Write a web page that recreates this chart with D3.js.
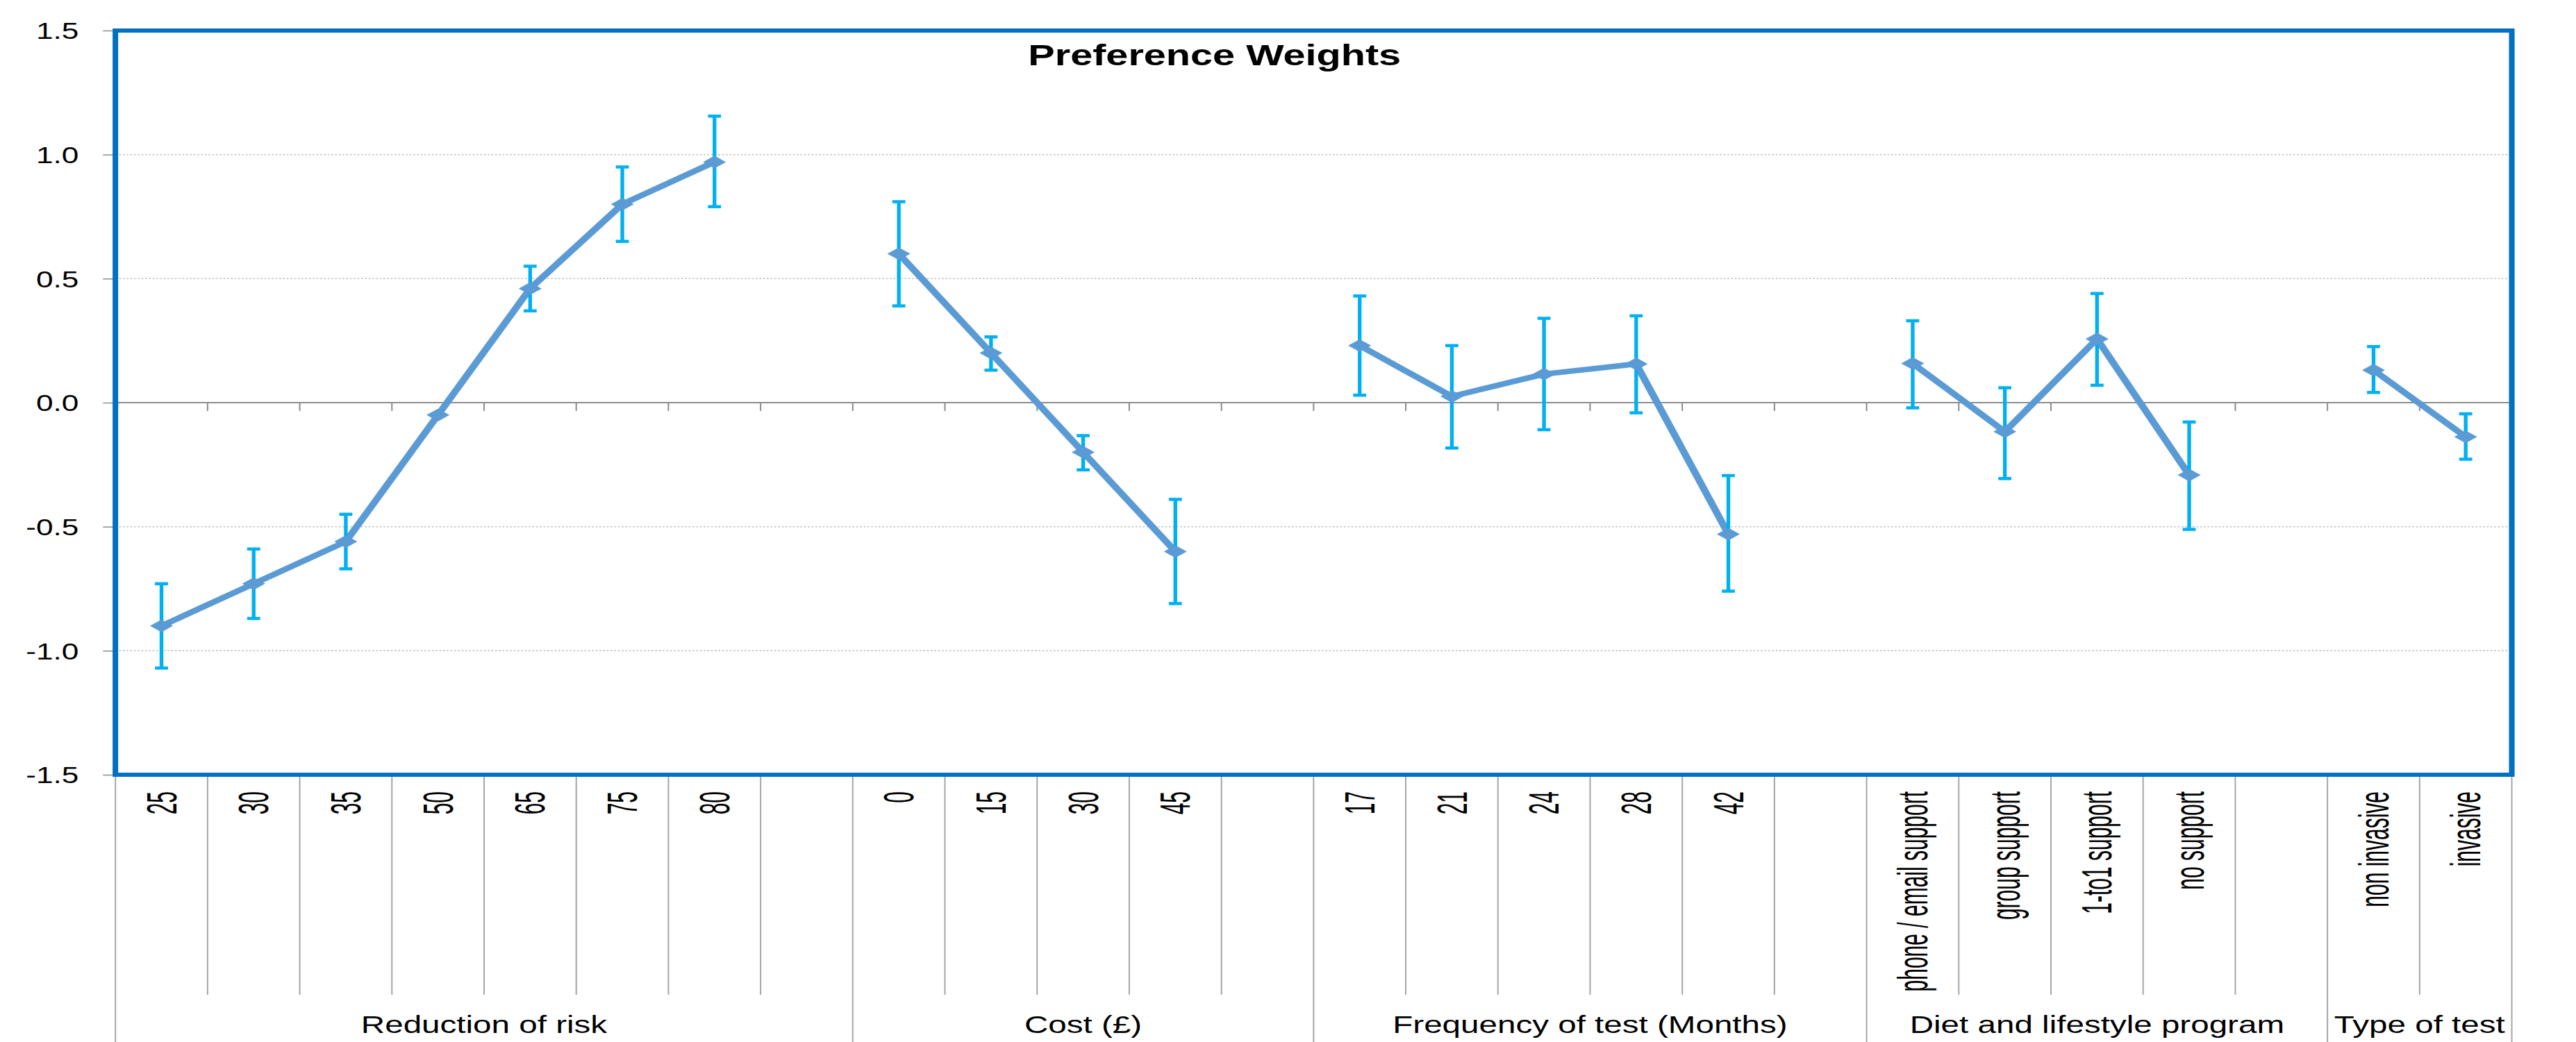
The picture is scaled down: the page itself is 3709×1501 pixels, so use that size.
<!DOCTYPE html>
<html>
<head>
<meta charset="utf-8">
<script src="https://cdn.jsdelivr.net/npm/d3@7"></script>
<style>
  html, body { margin: 0; padding: 0; background: #fff; }
  svg { display: block; }
  text { font-family: 'Liberation Sans', Arial, sans-serif; }
</style>
</head>
<body>
<div id="chart"></div>
<script>
const chartTitle = 'Preference Weights';
const groupNames = ['Reduction of risk', 'Cost (£)', 'Frequency of test (Months)', 'Diet and lifestyle program', 'Type of test'];
const levelLabels = [
    ['25', '30', '35', '50', '65', '75', '80', ''],
    ['0', '15', '30', '45', ''],
    ['17', '21', '24', '28', '42', ''],
    ['phone / email support', 'group support', '1-to1 support', 'no support', ''],
    ['non invasive', 'invasive']
];
const weights = [
    [-0.90, -0.73, -0.56, -0.05, 0.46, 0.80, 0.97, null],
    [0.60, 0.20, -0.20, -0.60, null],
    [0.23, 0.025, 0.115, 0.156, -0.53, null],
    [0.158, -0.117, 0.257, -0.292, null],
    [0.131, -0.138]
];
const ciUpper = [
    [-0.73, -0.59, -0.45, null, 0.55, 0.95, 1.155, null],
    [0.81, 0.265, -0.133, -0.39, null],
    [0.43, 0.23, 0.34, 0.35, -0.294, null],
    [0.33, 0.06, 0.44, -0.078, null],
    [0.226, -0.045]
];
const ciLower = [
    [-1.07, -0.87, -0.67, null, 0.37, 0.65, 0.79, null],
    [0.39, 0.131, -0.271, -0.81, null],
    [0.03, -0.183, -0.109, -0.041, -0.76, null],
    [-0.021, -0.306, 0.07, -0.511, null],
    [0.041, -0.228]
];
const yTicks = [-1.5, -1.0, -0.5, 0.0, 0.5, 1.0, 1.5];

// the original picture is stretched sideways, so draw in a narrower box and let the viewBox widen it
const W = 3709, H = 1501, stretch = 1.34;
const VW = W / stretch;
const margin = {top: 44, right: 69, bottom: 385, left: 124};
const w = VW - margin.left - margin.right;
const h = H - margin.top - margin.bottom;

const lineCol = '#5B9BD5';
const errCol = '#00B0F0';
const frameCol = '#0070C0';
const axisCol = '#8C8C8C';

const cats = [];
groupNames.forEach((g, gi) => {
    levelLabels[gi].forEach((lab, li) => {
        cats.push({group: gi, label: lab, value: weights[gi][li], hi: ciUpper[gi][li], lo: ciLower[gi][li], first: li === 0});
    });
});
const n = cats.length;

const svgRoot = d3.select('#chart').append('svg')
    .attr('width', W).attr('height', H)
    .attr('viewBox', `0 0 ${VW} ${H}`)
    .attr('preserveAspectRatio', 'none');

const svg = svgRoot.append('g').attr('transform', `translate(${margin.left},${margin.top})`);

const x = d3.scaleBand().domain(d3.range(n)).range([0, w]).padding(0);
const bw = x.bandwidth();
const edge = i => i * bw;
const y = d3.scaleLinear().domain([-1.5, 1.5]).range([h, 0]);

// dotted gridlines
svg.append('g').selectAll('line').data(yTicks.filter(t => Math.abs(t) !== 1.5 && t !== 0)).enter().append('line')
    .attr('x1', 0).attr('x2', w).attr('y1', d => y(d)).attr('y2', d => y(d))
    .style('stroke', '#BFBFBF').style('stroke-width', 1.5).style('stroke-dasharray', '2,2');

// y axis
const yAxis = d3.axisLeft(y).tickValues(yTicks).tickFormat(d => d.toFixed(1)).tickSize(13.4).tickPadding(26);
const ya = svg.append('g').attr('class', 'y-axis').call(yAxis);
ya.select('.domain').remove();
ya.selectAll('line').style('stroke', axisCol).style('stroke-width', 1.5);
ya.selectAll('text').style('font-size', '33px').style('fill', '#000').attr('dy', '0.36em');

// zero line with its little ticks
svg.append('line').attr('x1', 0).attr('x2', w).attr('y1', y(0)).attr('y2', y(0))
    .style('stroke', axisCol).style('stroke-width', 2);
svg.append('g').selectAll('line').data(d3.range(1, n + 1)).enter().append('line')
    .attr('x1', d => edge(d)).attr('x2', d => edge(d))
    .attr('y1', y(0)).attr('y2', y(0) + 12)
    .style('stroke', axisCol).style('stroke-width', 1.5);

// category table lines under the plot
const isGroupEdge = i => i === 0 || i === n || cats[i].first;
svg.append('g').selectAll('line').data(d3.range(0, n + 1)).enter().append('line')
    .attr('x1', d => edge(d)).attr('x2', d => edge(d))
    .attr('y1', h).attr('y2', d => isGroupEdge(d) ? h + margin.bottom : h + 317)
    .style('stroke', '#A6A6A6').style('stroke-width', 1.5);

// category labels (glyphs come out thicker than plain Arial in the source, hence the extra scale)
svg.append('g').selectAll('text').data(cats).enter().append('text')
    .attr('transform', (d, i) => `translate(${x(i) + bw / 2},${h + 24}) rotate(-90) scale(1,1.5)`)
    .attr('text-anchor', 'end').attr('dy', '0.35em')
    .style('font-size', '30px').style('fill', '#000')
    .text(d => d.label);

// group labels
const groupSpans = groupNames.map((g, gi) => {
    const idx = cats.map((c, i) => c.group === gi ? i : -1).filter(i => i >= 0);
    return {name: g, start: edge(idx[0]), end: edge(idx[idx.length - 1] + 1)};
});
svg.append('g').selectAll('text').data(groupSpans).enter().append('text')
    .attr('x', d => (d.start + d.end) / 2).attr('y', h + 372)
    .attr('text-anchor', 'middle')
    .style('font-size', '35.5px').style('fill', '#000')
    .text(d => d.name);

// series line, broken at the blank categories
const line = d3.line().defined(d => d.value != null).x(d => d.cx).y(d => y(d.value));
const pts = cats.map((c, i) => ({...c, cx: x(i) + bw / 2}));
svg.append('path').datum(pts).attr('d', line)
    .style('fill', 'none').style('stroke', lineCol).style('stroke-width', 8)
    .style('stroke-linejoin', 'round');

// error bars
const eb = svg.append('g').selectAll('g').data(pts.filter(d => d.hi != null && d.lo != null)).enter().append('g');
eb.append('line').attr('x1', d => d.cx).attr('x2', d => d.cx).attr('y1', d => y(d.hi)).attr('y2', d => y(d.lo))
    .style('stroke', errCol).style('stroke-width', 4);
eb.append('line').attr('x1', d => d.cx - 7).attr('x2', d => d.cx + 7).attr('y1', d => y(d.hi)).attr('y2', d => y(d.hi))
    .style('stroke', errCol).style('stroke-width', 4.5);
eb.append('line').attr('x1', d => d.cx - 7).attr('x2', d => d.cx + 7).attr('y1', d => y(d.lo)).attr('y2', d => y(d.lo))
    .style('stroke', errCol).style('stroke-width', 4.5);

// diamond markers, a bit wider than tall
const flatDiamond = {
    draw(ctx, size) {
        const rx = 11.5, ry = 8.5;
        ctx.moveTo(0, -ry); ctx.lineTo(rx, 0); ctx.lineTo(0, ry); ctx.lineTo(-rx, 0); ctx.closePath();
    }
};
const diamond = d3.symbol().type(flatDiamond);
svg.append('g').selectAll('path').data(pts.filter(d => d.value != null)).enter().append('path')
    .attr('d', diamond)
    .attr('transform', d => `translate(${d.cx},${y(d.value)})`)
    .style('fill', lineCol).style('stroke', lineCol).style('stroke-width', 1);

// plot frame
svg.append('rect').attr('x', 0).attr('y', 0).attr('width', w).attr('height', h)
    .style('fill', 'none').style('stroke', frameCol).style('stroke-width', 6);

// title
svgRoot.append('text').attr('x', 1305).attr('y', 94).attr('text-anchor', 'middle')
    .style('font-size', '43px').style('font-weight', 'bold').style('fill', '#000')
    .text(chartTitle);
</script>
</body>
</html>
